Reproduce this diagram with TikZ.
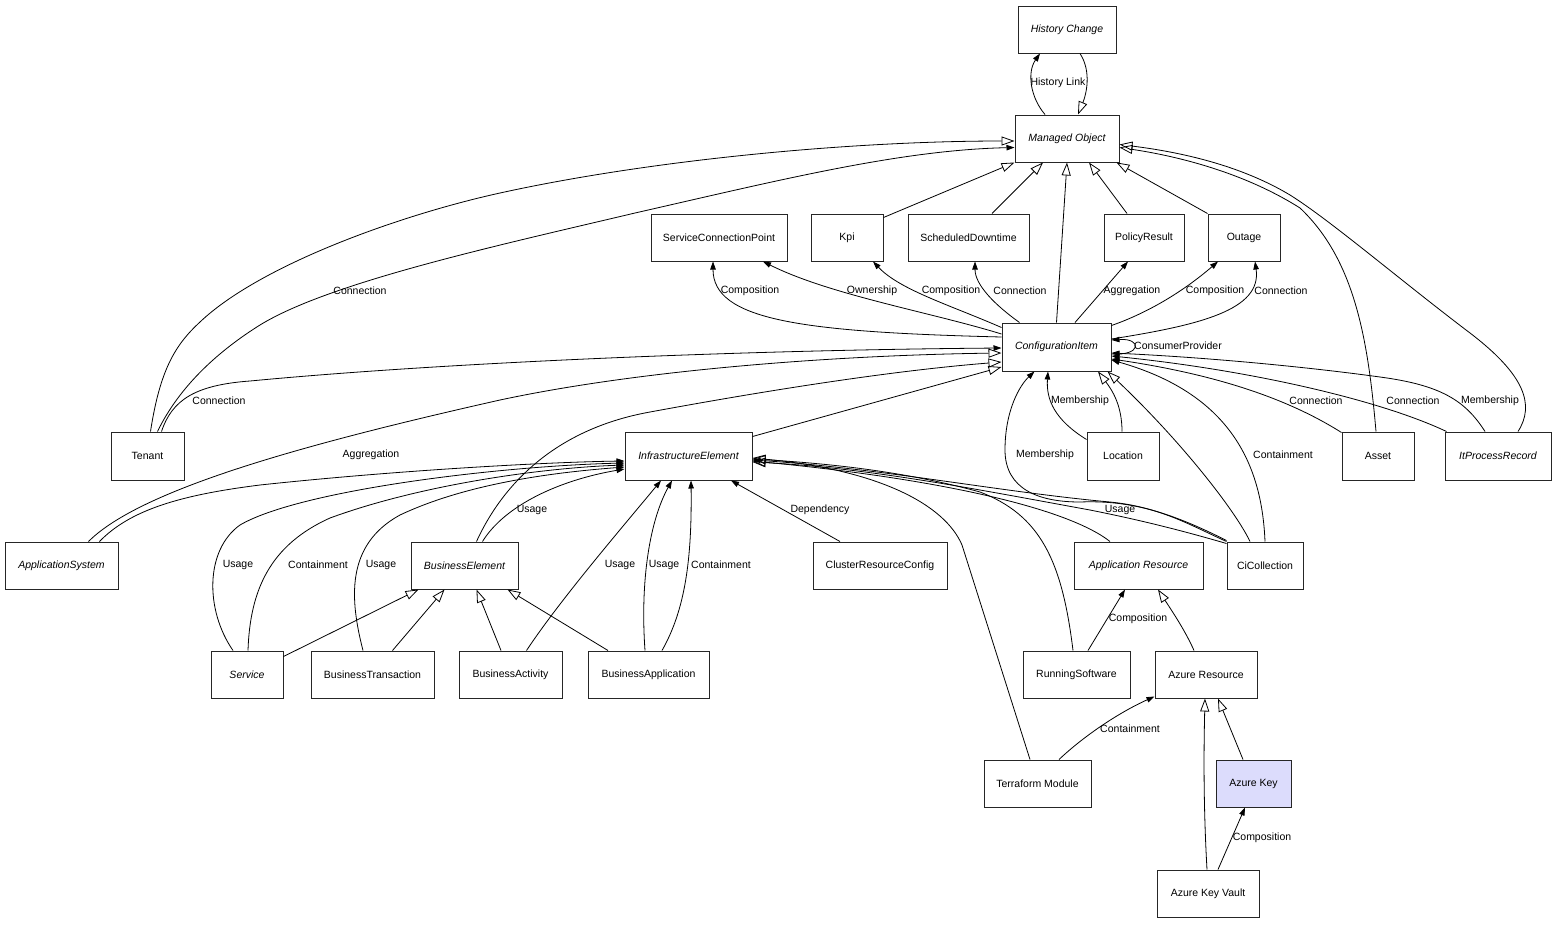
\documentclass[tikz,border=0pt]{standalone}
\usepackage{fontspec}
\setmainfont{Liberation Sans}
\usetikzlibrary{arrows.meta,calc}
\definecolor{akfill}{RGB}{220,220,252}
\begin{document}
\begin{tikzpicture}[x=1pt,y=-1pt,
  box/.style={draw=black!85,line width=1pt,fill=white,inner sep=0pt,minimum height=47pt,font=\fontsize{10.5}{12}\selectfont},
  abs/.style={box,font=\fontsize{10.5}{12}\selectfont\itshape},
  gen/.style={draw,line width=0.8pt,-{Triangle[open,length=13pt,width=9pt]}},
  assoc/.style={draw,line width=0.8pt,-{Triangle[length=8pt,width=5.5pt]}},
  lbl/.style={font=\fontsize{10.5}{12}\selectfont,inner sep=0pt}]
\useasboundingbox (0,0) rectangle (1556,924);
\fill[white] (0,0) rectangle (1556,924);
% nodes
\node[abs,minimum width=98pt] (HC) at (1067,29.5) {History Change};
\node[abs,minimum width=104pt] (MO) at (1067,138.5) {Managed Object};
\node[box,minimum width=136pt] (SCP) at (719,237.5) {ServiceConnectionPoint};
\node[box,minimum width=72pt] (Kpi) at (847,237.5) {Kpi};
\node[box,minimum width=121pt] (SD) at (968.5,237.5) {ScheduledDowntime};
\node[box,minimum width=80pt] (PR) at (1144,237.5) {PolicyResult};
\node[box,minimum width=72pt] (Outage) at (1244,237.5) {Outage};
\node[abs,minimum width=109pt,minimum height=48pt] (CI) at (1056.5,347) {ConfigurationItem};
\node[box,minimum width=73pt,minimum height=48pt] (Tenant) at (147.5,456) {Tenant};
\node[abs,minimum width=127pt,minimum height=48pt] (IE) at (688.5,456) {InfrastructureElement};
\node[box,minimum width=72pt,minimum height=48pt] (Loc) at (1123,456) {Location};
\node[box,minimum width=72pt,minimum height=48pt] (Asset) at (1378,456) {Asset};
\node[abs,minimum width=106pt,minimum height=48pt] (IPR) at (1498,456) {ItProcessRecord};
\node[abs,minimum width=113pt] (AS) at (61.5,565.5) {ApplicationSystem};
\node[abs,minimum width=107pt] (BE) at (464.5,565.5) {BusinessElement};
\node[box,minimum width=134pt] (CRC) at (880,565.5) {ClusterResourceConfig};
\node[abs,minimum width=129pt] (AR) at (1138.5,565.5) {Application Resource};
\node[box,minimum width=76pt] (CiC) at (1265,565.5) {CiCollection};
\node[abs,minimum width=72pt] (Svc) at (247,674.5) {Service};
\node[box,minimum width=123pt] (BT) at (372.5,674.5) {BusinessTransaction};
\node[box,minimum width=103pt] (BA) at (510.5,674.5) {BusinessActivity};
\node[box,minimum width=121pt] (BApp) at (648.5,674.5) {BusinessApplication};
\node[box,minimum width=107pt] (RS) at (1076.5,674.5) {RunningSoftware};
\node[box,minimum width=102pt] (AzR) at (1206,674.5) {Azure Resource};
\node[box,minimum width=107pt] (TM) at (1037.5,783.5) {Terraform Module};
\node[box,minimum width=75pt,fill=akfill] (AK) at (1253.5,783.5) {Azure Key};
\node[box,minimum width=102pt] (AKV) at (1208,893.5) {Azure Key Vault};
% History
\path[gen] ($(HC.south)+(13,0)$) .. controls (1092,72) and (1086,95) .. ($(MO.north)+(11,0)$);
\path[assoc] ($(MO.north)+(-22,0)$) .. controls (1030,97) and (1027,72) .. ($(HC.south)+(-27,0)$);
\node[lbl] (lHL) at (1058,83) {History Link};
% generalizations to Managed Object
\path[gen] ($(Tenant.north)+(3,0)$) .. controls (160,370) and (175,345) .. (200,322) .. controls (260,265) and (400,215) .. (500,193) .. controls (650,160) and (850,141) .. ($(MO.west)+(0,2.5)$);
\path[assoc] ($(Tenant.north)+(10,0)$) .. controls (180,385) and (220,350) .. (260,325) .. controls (330,282) and (500,245) .. (635,213) .. controls (780,180) and (900,150) .. ($(MO.west)+(0,9)$);
\node[lbl] (lTC1) at (360,291) {Connection};
\path[gen] ($(Kpi.north east)+(0,4)$) -- (MO.south west);
\path[gen] ($(SD.north)+(23.5,0)$) -- ($(MO.south)+(-24,0)$);
\path[gen] (CI.north) -- (MO.south);
\path[gen] ($(PR.north)+(-17,0)$) -- ($(MO.south)+(22,0)$);
\path[gen] (Outage.north west) -- ($(MO.south east)+(-3,0)$);
\path[gen] ($(Asset.north)+(-2,0)$) .. controls (1368,340) and (1355,260) .. (1300,208) .. controls (1240,170) and (1170,155) .. ($(MO.east)+(0,9)$);
\path[gen] ($(IPR.north)+(20,0)$) .. controls (1535,405) and (1525,375) .. (1470,333) .. controls (1400,280) and (1330,220) .. (1290,195) .. controls (1240,165) and (1180,152) .. ($(MO.east)+(0,6)$);
% CI to upper row
\path[assoc] ($(CI.west)+(0,-10)$) .. controls (800,332) and (713,320) .. ($(SCP.south)+(-6,0)$);
\node[lbl] (lSC1) at (750,291) {Composition};
\path[assoc] ($(CI.west)+(0,-13)$) .. controls (930,312) and (830,295) .. ($(SCP.south)+(44,0)$);
\node[lbl] (lSC2) at (872,291) {Ownership};
\path[assoc] ($(CI.north west)+(0,5)$) .. controls (950,305) and (900,290) .. ($(Kpi.south)+(26,0)$);
\node[lbl] (lK) at (951,291) {Composition};
\path[assoc] ($(CI.north west)+(18,0)$) .. controls (995,305) and (975,285) .. ($(SD.south)+(6.5,0)$);
\node[lbl] (lSD) at (1020,291) {Connection};
\path[assoc] ($(CI.north)+(18.5,0)$) -- ($(PR.south)+(-16,0)$);
\node[lbl] (lPR) at (1132,291) {Aggregation};
\path[assoc] ($(CI.north east)+(0,3)$) .. controls (1150,312) and (1185,290) .. ($(Outage.south)+(-26,0)$);
\node[lbl] (lO1) at (1215,291) {Composition};
\path[assoc] ($(CI.east)+(0,-8)$) .. controls (1200,325) and (1262,310) .. ($(Outage.south)+(11,0)$);
\node[lbl] (lO2) at (1281,291) {Connection};
\path[assoc] ($(CI.east)+(0,7)$) .. controls (1142,356) and (1142,338) .. ($(CI.east)+(0,-7)$);
\node[lbl] (lCP) at (1178,346) {ConsumerProvider};
% into CI from left
\path[assoc] ($(Tenant.north)+(14,0)$) .. controls (172,400) and (195,385) .. (250,381) .. controls (450,362) and (750,350) .. ($(CI.west)+(0,1)$);
\node[lbl] (lTC2) at (219,401) {Connection};
\path[gen] ($(AS.north)+(27,0)$) .. controls (140,490) and (300,445) .. (500,400) .. controls (650,368) and (850,355) .. ($(CI.west)+(0,6)$);
\path[assoc] ($(AS.north)+(38,0)$) .. controls (130,510) and (180,495) .. (260,485) .. controls (400,470) and (550,462) .. ($(IE.west)+(0,5)$);
\node[lbl] (lAg) at (371,455) {Aggregation};
\path[gen] ($(BE.north)+(12,0)$) .. controls (500,490) and (550,430) .. (650,412) .. controls (780,388) and (900,370) .. ($(CI.west)+(0,15)$);
\path[assoc] ($(BE.north)+(18,0)$) .. controls (505,505) and (560,480) .. ($(IE.west)+(0,13)$);
\node[lbl] (lBU) at (532,510) {Usage};
\path[gen] ($(IE.north east)+(0,5)$) -- ($(CI.west)+(0,20)$);
% into IE from left / bottom
\path[assoc] ($(Svc.north)+(-14,0)$) .. controls (205,610) and (205,550) .. (240,525) .. controls (300,490) and (500,466) .. ($(IE.west)+(0,7)$);
\node[lbl] (lSU) at (238,565) {Usage};
\path[assoc] ($(Svc.north)+(1,0)$) .. controls (250,590) and (270,545) .. (330,518) .. controls (420,485) and (540,468) .. ($(IE.west)+(0,9)$);
\node[lbl] (lSCo) at (318,565) {Containment};
\path[assoc] ($(BT.north)+(-9.5,0)$) .. controls (350,600) and (345,545) .. (400,515) .. controls (470,482) and (560,472) .. ($(IE.west)+(0,11)$);
\node[lbl] (lBTU) at (381,565) {Usage};
\path[gen] ($(Svc.east)+(0,-18)$) -- ($(BE.south)+(-46,0)$);
\path[gen] ($(BT.north)+(20,0)$) -- ($(BE.south)+(-20,0)$);
\path[gen] ($(BA.north)+(-9.5,0)$) -- ($(BE.south)+(12,0)$);
\path[gen] ($(BApp.north)+(-40.5,0)$) -- ($(BE.south)+(43,0)$);
\path[assoc] ($(BA.north)+(16,0)$) .. controls (560,600) and (620,530) .. ($(IE.south)+(-27.5,0)$);
\node[lbl] (lBAU) at (620,565) {Usage};
\path[assoc] ($(BApp.north)+(-3.5,0)$) .. controls (640,580) and (650,520) .. ($(IE.south)+(-16.5,0)$);
\node[lbl] (lBApU) at (664,565) {Usage};
\path[assoc] ($(BApp.north)+(13.5,0)$) .. controls (685,610) and (692,560) .. ($(IE.south)+(2.5,0)$);
\node[lbl] (lBApC) at (721,565) {Containment};
\path[assoc] ($(CRC.north)+(-40,0)$) -- ($(IE.south)+(42.5,0)$);
\node[lbl] (lDep) at (820,510) {Dependency};
% into IE from right
\path[gen] ($(AR.north)+(-28.5,0)$) .. controls (1070,510) and (950,480) .. ($(IE.east)+(0,5)$);
\path[gen] ($(RS.north)+(-3.5,0)$) .. controls (1062,560) and (1040,515) .. (980,492) .. controls (900,470) and (820,463) .. ($(IE.east)+(0,3)$);
\path[gen] ($(TM.north)+(-7.5,0)$) -- (962,545) .. controls (945,505) and (880,470) .. ($(IE.east)+(0,2)$);
\path[assoc] (CiC.north west) .. controls (1190,525) and (1160,507) .. (1110,502) .. controls (1000,492) and (880,468) .. ($(IE.east)+(0,4)$);
\node[lbl] (lCU) at (1120,510) {Usage};
\path[gen] ($(CiC.north west)+(0,2)$) .. controls (1180,530) and (1140,520) .. (1090,510) .. controls (980,490) and (870,468) .. ($(IE.east)+(0,6)$);
% into CI from below / right
\path[assoc] ($(CiC.north west)+(0,-1)$) .. controls (1170,512) and (1130,500) .. (1080,502) .. controls (1040,502) and (1005,490) .. (1005,450) .. controls (1005,410) and (1020,385) .. ($(CI.south)+(-22,0)$);
\node[lbl] (lCM) at (1045,455) {Membership};
\path[assoc] ($(Loc.north west)+(0,8)$) .. controls (1055,420) and (1046,400) .. ($(CI.south)+(-8.5,0)$);
\node[lbl] (lLM) at (1080,401) {Membership};
\path[gen] ($(Loc.north)+(-1,0)$) .. controls (1122,405) and (1112,390) .. ($(CI.south)+(41.5,0)$);
\path[gen] ($(CiC.north)+(-15,0)$) .. controls (1235,510) and (1180,440) .. ($(CI.south east)+(-4,0)$);
\path[assoc] (CiC.north) .. controls (1262,470) and (1235,395) .. ($(CI.east)+(0,13)$);
\node[lbl] (lCC) at (1283,455) {Containment};
\path[assoc] ($(Asset.north west)+(0,1)$) .. controls (1290,400) and (1220,375) .. ($(CI.east)+(0,12)$);
\node[lbl] (lAC) at (1316,401) {Connection};
\path[assoc] ($(IPR.north west)+(2,0)$) .. controls (1380,400) and (1250,370) .. ($(CI.east)+(0,9)$);
\node[lbl] (lIC) at (1413,401) {Connection};
\path[assoc] ($(IPR.north)+(-13,0)$) .. controls (1465,400) and (1440,385) .. (1380,377) .. controls (1300,366) and (1200,357) .. ($(CI.east)+(0,6)$);
\node[lbl] (lIM) at (1490,401) {Membership};
% Azure part
\path[assoc] ($(RS.north)+(11.5,0)$) -- ($(AR.south)+(-13.5,0)$);
\node[lbl] (lRC) at (1138,619) {Composition};
\path[gen] ($(AzR.north)+(-12,0)$) .. controls (1185,630) and (1170,608) .. ($(AR.south)+(19.5,0)$);
\path[assoc] ($(TM.north)+(21.5,0)$) .. controls (1085,735) and (1120,712) .. ($(AzR.south west)+(0,-2)$);
\node[lbl] (lTC) at (1130,729) {Containment};
\path[gen] ($(AKV.north)+(-1,0)$) .. controls (1203,800) and (1204,740) .. ($(AzR.south)+(-1,0)$);
\path[gen] ($(AK.north)+(-10.5,0)$) -- ($(AzR.south)+(12,0)$);
\path[assoc] ($(AKV.north)+(10,0)$) -- ($(AK.south)+(-8.5,0)$);
\node[lbl] (lKC) at (1262,838) {Composition};
\end{tikzpicture}
\end{document}
